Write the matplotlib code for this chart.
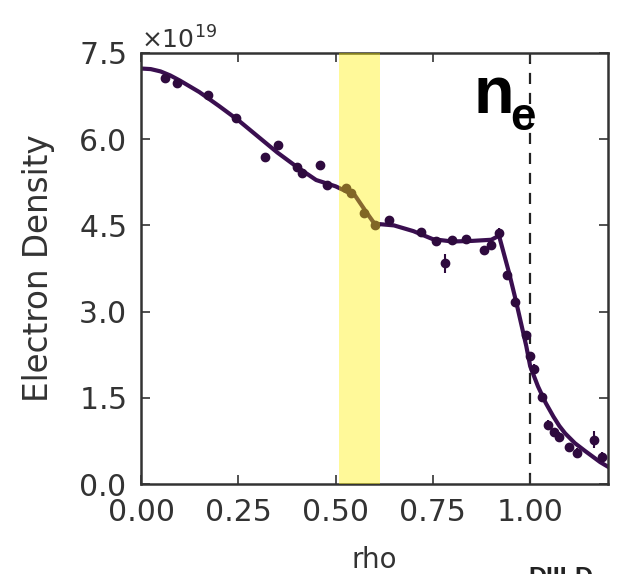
import matplotlib
matplotlib.use("Agg")
import matplotlib.pyplot as plt
import numpy as np

# measured profile (units of 1e19 m^-3)
rho_pts = [0.062, 0.092, 0.172, 0.244, 0.318, 0.351, 0.402, 0.413, 0.46, 0.477, 0.528, 0.54,
           0.574, 0.60, 0.638, 0.72, 0.757, 0.78, 0.80, 0.836, 0.882, 0.90, 0.92, 0.94,
           0.96, 0.99, 1.0, 1.01, 1.03, 1.045, 1.06, 1.075, 1.10, 1.12, 1.165, 1.185]
ne_pts = [7.06, 6.97, 6.77, 6.37, 5.69, 5.90, 5.51, 5.41, 5.55, 5.20, 5.15, 5.06,
          4.71, 4.50, 4.59, 4.38, 4.23, 3.84, 4.24, 4.26, 4.07, 4.16, 4.37, 3.63,
          3.17, 2.59, 2.22, 2.00, 1.51, 1.03, 0.90, 0.82, 0.64, 0.54, 0.77, 0.47]
ne_err = [0.05, 0.05, 0.05, 0.05, 0.06, 0.06, 0.06, 0.06, 0.06, 0.06, 0.06, 0.06,
          0.06, 0.06, 0.06, 0.06, 0.06, 0.17, 0.06, 0.06, 0.06, 0.08, 0.08, 0.08,
          0.08, 0.08, 0.08, 0.08, 0.08, 0.08, 0.08, 0.08, 0.08, 0.08, 0.15, 0.08]

# fitted profile
rho_fit = [0.0, 0.025, 0.05, 0.075, 0.10, 0.15, 0.20, 0.25, 0.30, 0.35, 0.40, 0.45, 0.50,
           0.55, 0.58, 0.60, 0.65, 0.70, 0.75, 0.80, 0.85, 0.90, 0.92, 0.946, 0.964,
           0.99, 1.00, 1.02, 1.04, 1.06, 1.075, 1.09, 1.115, 1.14, 1.16, 1.18, 1.20]
ne_fit = [7.23, 7.22, 7.18, 7.11, 7.02, 6.82, 6.58, 6.33, 6.05, 5.77, 5.52, 5.29, 5.18,
          5.02, 4.72, 4.53, 4.50, 4.40, 4.26, 4.22, 4.23, 4.25, 4.32, 3.67, 3.17,
          2.40, 2.05, 1.70, 1.41, 1.17, 1.01, 0.88, 0.71, 0.58, 0.48, 0.38, 0.30]

band = (0.51, 0.615)
xticks = [0.0, 0.25, 0.5, 0.75, 1.0]
yticks = [0.0, 1.5, 3.0, 4.5, 6.0, 7.5]
scale = 1e19

W, H = 621, 574
fig = plt.figure(figsize=(W / 100, H / 100), dpi=100)
ax = fig.add_axes([141 / W, 1 - 484 / H, (608 - 141) / W, (484 - 53) / H])

purple = "#2e0a3e"
ax.axvline(1.0, color="#222222", ls=(0, (5, 4)), lw=1.6, zorder=1)
ax.plot(rho_fit, np.array(ne_fit) * scale, color="#3a0f50", lw=3, zorder=2,
        solid_joinstyle="round")
ax.errorbar(rho_pts, np.array(ne_pts) * scale, yerr=np.array(ne_err) * scale,
            fmt="o", ms=6, color=purple, ecolor=purple, elinewidth=1.5, zorder=3)
ax.axvspan(band[0], band[1], color="#fff200", alpha=0.4, lw=0, zorder=4)

ax.set_xlim(0, 1.2)
ax.set_ylim(0, 7.5 * scale)
ax.set_xticks(xticks)
ax.set_xticklabels(["%.2f" % v for v in xticks])
ax.set_yticks(np.array(yticks) * scale)
ax.ticklabel_format(style="sci", axis="y", scilimits=(0, 0), useMathText=True)
ax.yaxis.get_offset_text().set_fontsize(18)
ax.yaxis.get_offset_text().set_color("#333333")

ax.tick_params(direction="in", top=True, right=True, length=6.5, width=1.2,
               labelsize=21.5, colors="#333333")
ax.tick_params(axis="y", pad=11)
ax.tick_params(axis="x", pad=10)
for s in ax.spines.values():
    s.set_linewidth(1.8)
    s.set_color("#333333")

ax.set_xlabel("rho", fontsize=20, color="#333333", va="top")
ax.xaxis.set_label_coords(0.5, (484 - 546) / 431)
ax.set_ylabel("Electron Density", fontsize=23.5, color="#333333")
ax.yaxis.set_label_coords((55 - 141) / 467, 0.5)

fig.text(473 / W, 1 - 113 / H, "n", fontsize=48, fontweight="bold",
         family="Liberation Sans", color="black", ha="left", va="baseline")
fig.text(510 / W, 1 - 130 / H, "e", fontsize=33, fontweight="bold",
         family="Liberation Sans", color="black", ha="left", va="baseline")

fig.text(528 / W, 1 - 566 / H, "DIII-D", fontsize=18, fontweight="bold",
         family="Liberation Sans", color="#222222", ha="left", va="top")

fig.savefig("out.png", dpi=100)
